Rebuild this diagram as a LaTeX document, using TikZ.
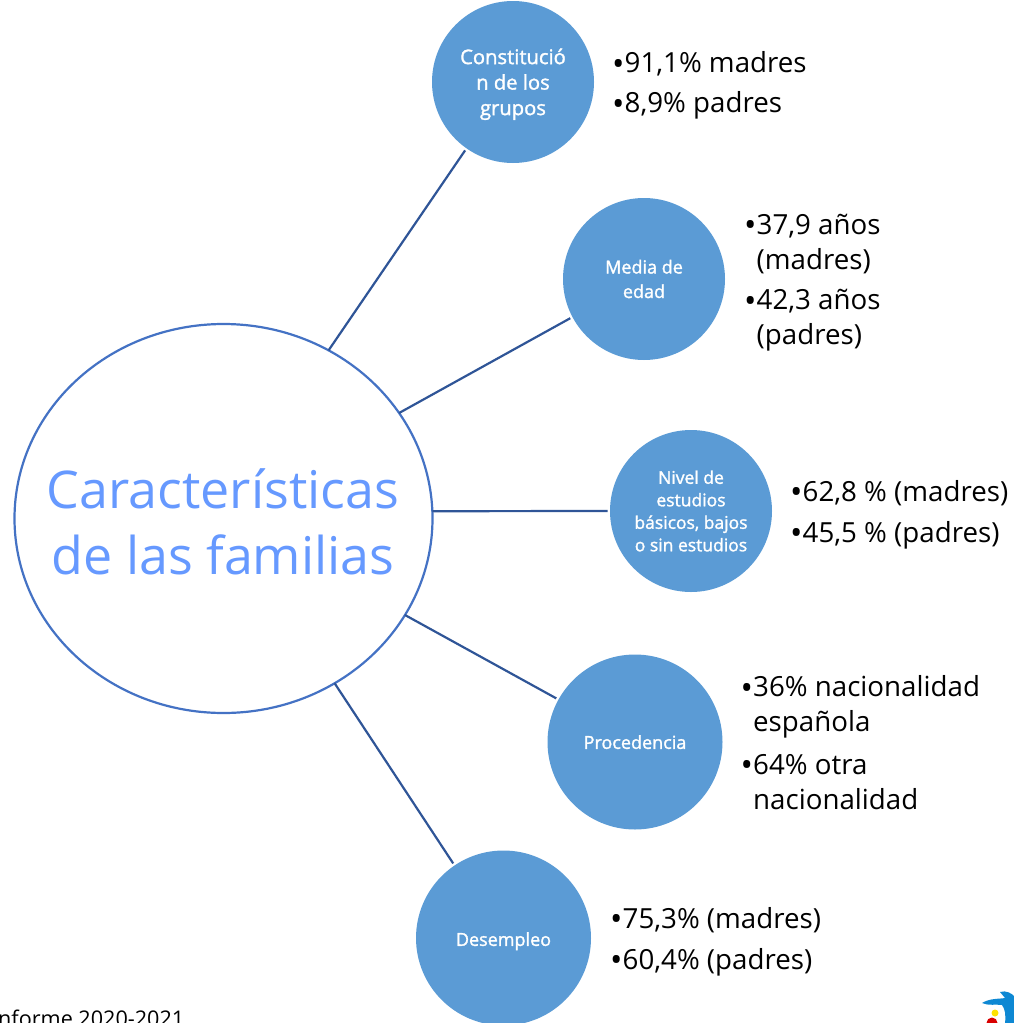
\documentclass[tikz,border=0pt]{standalone}
\usepackage{fontspec}
\setmainfont{Open Sans}
\newfontfamily\labelfont[FakeBold=1.5]{Open Sans}
\usetikzlibrary{shapes.geometric}
\definecolor{topicfill}{HTML}{5B9BD5}
\definecolor{mainline}{HTML}{4472C4}
\definecolor{linkline}{HTML}{2F5597}
\definecolor{maintext}{HTML}{6699FF}
\newcommand{\bul}{\makebox[12.5pt][l]{\raisebox{-2.4pt}{\fontsize{33}{35}\selectfont•}}}
\newcommand{\hang}{\hspace*{12.5pt}}
\newcommand{\nudged}[2]{\raisebox{0pt}[\dimexpr\height+#1+#1\relax]{\begin{tabular}{@{}c@{}}#2\end{tabular}}}
\tikzset{
  x=1pt,y=-1pt,
  mainnode/.style={ellipse,draw=mainline,line width=2.2pt,fill=white,minimum width=418pt,minimum height=389pt,inner sep=0pt,outer sep=0pt},
  maintitle/.style={inner sep=0pt,align=center,text=maintext,font=\fontsize{52}{66}\selectfont},
  topic/.style={circle,fill=topicfill,inner sep=0pt,outer sep=2.5pt,align=center,text=white,font=\fontsize{18}{24.5}\selectfont\labelfont},
  small/.style={minimum size=162pt},
  large/.style={minimum size=175pt},
  itemtext/.style={anchor=west,align=left,inner sep=0pt,text=black,font=\fontsize{27.7}{35}\selectfont},
  link/.style={draw=linkline,line width=2.2pt},
}
\begin{document}
\begin{tikzpicture}
\useasboundingbox (0,0) rectangle (1014,1023);
\node[mainnode] (main) at (223.5,518.5) {};
\node[maintitle] (maintxt) at (223,522) {Características\\de las familias};
\node[topic,small,font=\fontsize{20.2}{25.5}\selectfont\labelfont] (c1) at (513,82) {\nudged{2.5pt}{Constitució\\n de los\\grupos}};
\node[topic,small] (c2) at (644,279) {Media de\\edad};
\node[topic,small,font=\fontsize{17.5}{22.5}\selectfont\labelfont] (c3) at (691,511) {Nivel de\\estudios\\básicos, bajos\\o sin estudios};
\node[topic,large] (c4) at (635,742) {\nudged{2pt}{Procedencia}};
\node[topic,large] (c5) at (503.5,938) {\nudged{3pt}{Desempleo}};
\draw[link] (main.58) -- (c1.235.7);
\draw[link] (main.31.2) -- (c2.208);
\draw[link] (main.2.2) -- (c3.180);
\draw[link] (main.-28.2) -- (c4.151);
\draw[link] (main.-56.5) -- (c5.124.3);
\node[itemtext] (t1a) at (612,64) {\bul 91,1\% madres};
\node[itemtext] (t1b) at (612,105.5) {\bul 8,9\% padres};
\node[itemtext] (t2a) at (744,244) {\bul 37,9 años\\\hang (madres)};
\node[itemtext] (t2b) at (744,320.5) {\bul 42,3 años\\\hang (padres)};
\node[itemtext] (t3a) at (790,493) {\bul 62,8 \% (madres)};
\node[itemtext] (t3b) at (790,535) {\bul 45,5 \% (padres)};
\node[itemtext] (t4a) at (740.5,707) {\bul 36\% nacionalidad\\\hang española};
\node[itemtext] (t4b) at (740.5,782) {\bul 64\% otra\\\hang nacionalidad};
\node[itemtext] (t5a) at (610,920) {\bul 75,3\% (madres)};
\node[itemtext] (t5b) at (610,962) {\bul 60,4\% (padres)};
\node[anchor=base west,inner sep=0pt,font=\fontsize{21.6}{26}\selectfont] (src) at (-8,1026) {Informe 2020-2021};
% logo
\begin{scope}
\clip (950,970) rectangle (1014,1023);
\fill[cyan!70!blue] (982,1003) .. controls (990,998) and (1000,999) .. (1005,998) -- (1000,992) .. controls (1006,990) and (1012,993) .. (1016,998) -- (1016,1023) -- (1005,1023) .. controls (1006,1015) and (1005,1009) .. (1002,1005) .. controls (996,1004) and (988,1006) .. (982,1003) -- cycle;
\fill[yellow!85!orange] (995,1013) circle (3.5);
\fill[red!85!black] (992,1023) circle (5.5);
\end{scope}
\end{tikzpicture}
\end{document}
